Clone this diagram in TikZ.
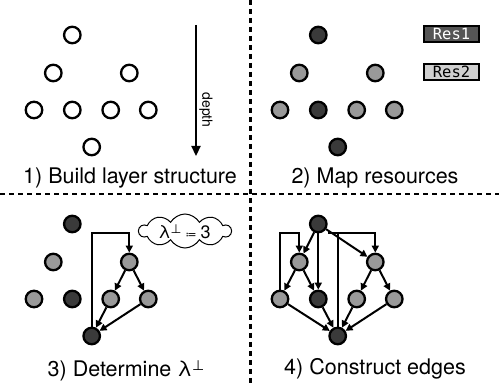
\documentclass[tikz,border=0pt]{standalone}
\usepackage{fontspec}
\setmainfont{TeX Gyre Heros}
\newfontfamily\symfam{DejaVu Sans}
\newfontfamily\monofam{DejaVu Sans Mono}
\usetikzlibrary{arrows.meta,shapes.symbols}
\definecolor{resdark}{HTML}{3A3A3A}
\definecolor{resmid}{HTML}{999999}
\definecolor{tagdark}{HTML}{555555}
\definecolor{taglight}{HTML}{D0D0D0}

\tikzset{
  vert/.style={circle, draw=black, line width=2.3pt, minimum size=16.5pt, inner sep=0pt},
  plain/.style={vert, fill=white},
  rone/.style={vert, fill=resdark},
  rtwo/.style={vert, fill=resmid},
  edge/.style={line width=2pt, -{Triangle[length=7pt,width=7pt]}},
  link/.style={line width=2pt},
  title/.style={font=\fontsize{21.5}{25}\selectfont, anchor=base},
  sep/.style={line width=2.2pt, dash pattern=on 5pt off 4pt},
  tag/.style={draw=black, line width=2pt, minimum width=55pt, minimum height=16pt,
    inner sep=0pt, font=\monofam\fontsize{15.5}{17}\selectfont},
}
\newcommand{\perpsup}{\raisebox{5.5pt}{\symfam\fontsize{14}{16}\selectfont ⊥}}
\newcommand{\perpsmall}{\raisebox{5pt}{\symfam\fontsize{12.5}{14}\selectfont ⊥}}

\begin{document}
\begin{tikzpicture}[x=1pt, y=-1pt]
\useasboundingbox (0,0) rectangle (499,385);

% panel separators
\coordinate (hl) at (0,194);
\coordinate (hr) at (499,194);
\coordinate (vt) at (250.5,0);
\coordinate (vb) at (250.5,385);
\draw[sep] (hl) -- (hr);
\draw[sep] (vt) -- (vb);

% 1) layer structure
\begin{scope}
  \node[plain] (a-t)  at (72.3,35) {};
  \node[plain] (a-m1) at (53.3,73) {};
  \node[plain] (a-m2) at (129.3,73) {};
  \node[plain] (a-l1) at (34,110) {};
  \node[plain] (a-l2) at (72.3,110) {};
  \node[plain] (a-l3) at (110.7,110) {};
  \node[plain] (a-l4) at (148.3,110) {};
  \node[plain] (a-b)  at (91.7,147) {};
  \coordinate (dtop) at (196,25);
  \coordinate (dend) at (196,156);
  \draw[line width=2.3pt, -{Triangle[length=10pt,width=9pt]}] (dtop) -- (dend);
  \node[rotate=-90, font=\fontsize{14}{16}\selectfont] (depth) at (206,110) {depth};
  \node[title] (a-title) at (130,184) {1) Build layer structure};
\end{scope}

% 2) resource mapping
\begin{scope}[shift={(246,0)}]
  \node[rone] (b-t)  at (72.3,35) {};
  \node[rtwo] (b-m1) at (53.3,73) {};
  \node[rtwo] (b-m2) at (129.3,73) {};
  \node[rtwo] (b-l1) at (34,110) {};
  \node[rone] (b-l2) at (72.3,110) {};
  \node[rtwo] (b-l3) at (110.7,110) {};
  \node[rtwo] (b-l4) at (148.3,110) {};
  \node[rone] (b-b)  at (91.7,147) {};
  \node[title] (b-title) at (129,184) {2) Map resources};
\end{scope}
\node[tag, fill=tagdark, text=white] (res1) at (451.5,34) {Res1};
\node[tag, fill=taglight] (res2) at (451.5,72) {Res2};

% 3) lambda
\begin{scope}[shift={(0,189)}]
  \node[rone] (c-t)  at (72.3,35) {};
  \node[rtwo] (c-m1) at (53.3,73) {};
  \node[rtwo] (c-m2) at (129.3,73) {};
  \node[rtwo] (c-l1) at (34,110) {};
  \node[rone] (c-l2) at (72.3,110) {};
  \node[rtwo] (c-l3) at (110.7,110) {};
  \node[rtwo] (c-l4) at (148.3,110) {};
  \node[rone] (c-b)  at (91.7,147) {};
  \coordinate (c-k) at (91.7,44);
  \draw[edge] (c-m2) -- (c-l3);
  \draw[edge] (c-m2) -- (c-l4);
  \draw[edge] (c-l3) -- (c-b);
  \draw[edge] (c-l4) -- (c-b);
  \draw[edge] (c-b) -- (c-k) -| (c-m2);
  \node[cloud, draw, cloud puffs=10, cloud puff arc=120, cloud ignores aspect,
    minimum width=92pt, minimum height=34pt, inner sep=0pt, line width=1pt]
    (cl) at (185,42) {};
  \node[font=\fontsize{18}{21}\selectfont, inner sep=0pt] (cl-text) at (184.5,43)
    {λ\perpsmall\hspace{4pt}{\symfam\fontsize{11}{13}\selectfont ≔}\hspace{4pt}3};
  \node[title] (c-title) at (126,187.5) {3) Determine λ\perpsup};
\end{scope}

% 4) edges
\begin{scope}[shift={(246,189)}]
  \node[rone] (d-t)  at (72.3,35) {};
  \node[rtwo] (d-m1) at (53.3,73) {};
  \node[rtwo] (d-m2) at (129.3,73) {};
  \node[rtwo] (d-l1) at (34,110) {};
  \node[rone] (d-l2) at (72.3,110) {};
  \node[rtwo] (d-l3) at (110.7,110) {};
  \node[rtwo] (d-l4) at (148.3,110) {};
  \node[rone] (d-b)  at (91.7,147) {};
  \coordinate (d-k1) at (34,44);
  \coordinate (d-k2) at (91.7,44);
  \coordinate (d-k3) at (82,44);
  \draw[link] (d-b) -- (d-k2);
  \draw[edge] (d-k3) -| (d-m2);
  \draw[edge] (d-l1) -- (d-k1) -| (d-m1);
  \draw[edge] (d-t) -- (d-m1);
  \draw[edge] (d-t) -- (d-l2);
  \draw[edge] (d-t) -- (d-m2);
  \draw[edge] (d-m1) -- (d-l1);
  \draw[edge] (d-m1) -- (d-l2);
  \draw[edge] (d-m2) -- (d-l3);
  \draw[edge] (d-m2) -- (d-l4);
  \draw[edge] (d-l1) -- (d-b);
  \draw[edge] (d-l2) -- (d-b);
  \draw[edge] (d-l3) -- (d-b);
  \draw[edge] (d-l4) -- (d-b);
  \node[title] (d-title) at (129,186) {4) Construct edges};
\end{scope}
\end{tikzpicture}
\end{document}
